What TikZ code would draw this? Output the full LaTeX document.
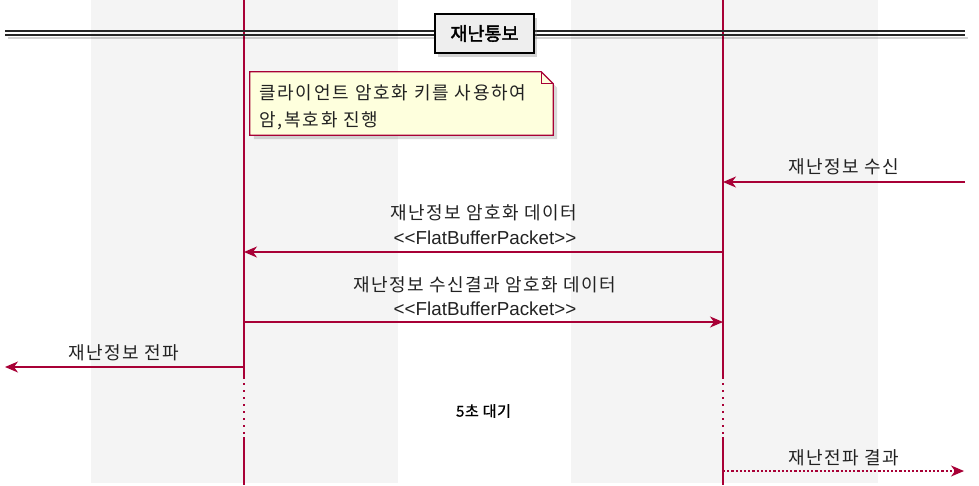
\documentclass[tikz,border=0pt]{standalone}
\usepackage{fontspec}
\setmainfont{Liberation Sans}
\newfontfamily\kr[LetterSpace=8]{Noto Sans CJK KR}
\newfontfamily\krn[LetterSpace=10]{Noto Sans CJK KR}
\newfontfamily\krb[FakeBold=2]{Noto Sans CJK KR}
\newfontfamily\krm[FakeBold=1,LetterSpace=4]{Noto Sans CJK KR}
\usetikzlibrary{arrows.meta,shadows}
\definecolor{pu}{HTML}{A80036}
\definecolor{band}{HTML}{F4F4F4}
\definecolor{notefill}{HTML}{FEFFDD}
\definecolor{txt}{HTML}{222222}
\definecolor{titlefill}{HTML}{EEEEEE}
\tikzset{
  lifeline/.style={draw=pu, line width=1.4pt},
  waitline/.style={draw=pu, line width=1.4pt, dash pattern=on 1.6pt off 5.4pt, dash phase=-4pt},
  msg/.style={draw=pu, line width=1.3pt, -{Stealth[length=13pt,width=11pt,inset=4pt]}},
  rmsg/.style={msg, dash pattern=on 2.2pt off 2pt},
  lbl/.style={font=\kr\fontsize{18}{22}\selectfont, text=txt, inner sep=0pt},
  latlbl/.style={font=\fontsize{18.8}{22}\selectfont, text=txt, inner sep=0pt, text height=13.5pt, text depth=0pt},
  delaylbl/.style={font=\krm\fontsize{15}{18}\selectfont, text=black, inner sep=0pt},
  titlebox/.style={draw=black, line width=1.5pt, fill=titlefill, minimum width=99pt, minimum height=39pt, inner sep=0pt,
    font=\krb\fontsize{18.5}{22}\selectfont, drop shadow={shadow xshift=3pt, shadow yshift=-4pt, opacity=0.35}},
  notebox/.style={minimum width=303pt, minimum height=63pt, inner sep=0pt},
  notetext/.style={font=\krn\fontsize{18}{27}\selectfont, text=txt, inner sep=0pt, align=left},
  sepline/.style={draw=black!85, line width=1.4pt},
}
\begin{document}
\begin{tikzpicture}[x=1pt,y=-1pt]
\useasboundingbox (0,0) rectangle (979,485);
% background bands
\fill[band] (91,0) rectangle (398,483);
\fill[band] (571,0) rectangle (878,483);

% lifelines
\coordinate (L1top) at (244,0);
\coordinate (L1w1) at (244,379);
\coordinate (L1w2) at (244,437);
\coordinate (L1bot) at (244,485);
\coordinate (L2top) at (723,0);
\coordinate (L2w1) at (723,379);
\coordinate (L2w2) at (723,437);
\coordinate (L2bot) at (723,485);
\draw[lifeline] (L1top) -- (L1w1);
\draw[waitline] (L1w1) -- (L1w2);
\draw[lifeline] (L1w2) -- (L1bot);
\draw[lifeline] (L2top) -- (L2w1);
\draw[waitline] (L2w1) -- (L2w2);
\draw[lifeline] (L2w2) -- (L2bot);

% separator
\coordinate (sepA1) at (5,31);
\coordinate (sepA2) at (965,31);
\coordinate (sepB1) at (5,35);
\coordinate (sepB2) at (965,35);
\coordinate (sepS1) at (8,38);
\coordinate (sepS2) at (968,38);
\draw[black, opacity=0.18, line width=2.5pt] (sepS1) -- (sepS2);
\draw[sepline] (sepA1) -- (sepA2);
\draw[sepline] (sepB1) -- (sepB2);
\node[titlebox] (title) at (484.5,33.5) {재난통보};

% note
\node[notebox] (note) at (401.5,103.5) {};
\filldraw[fill=notefill, draw=pu, line width=1.2pt,
  drop shadow={shadow xshift=4pt, shadow yshift=-4pt, opacity=0.3}]
  (note.north west) -- ([xshift=-12pt]note.north east) -- ([yshift=-12pt]note.north east)
  -- (note.south east) -- (note.south west) -- cycle;
\draw[draw=pu, line width=1.2pt] ([xshift=-12pt]note.north east) -- ([xshift=-12pt,yshift=-12pt]note.north east) -- ([yshift=-12pt]note.north east);
\node[notetext, anchor=west] (notetxt) at (259,107) {클라이언트 암호화 키를 사용하여\\암,복호화 진행};

% message endpoints
\coordinate (ext1) at (965,182);
\coordinate (m1b) at (723,182);
\coordinate (m2a) at (723,252);
\coordinate (m2b) at (244,252);
\coordinate (m3a) at (244,322);
\coordinate (m3b) at (723,322);
\coordinate (m4a) at (244,367);
\coordinate (ext4) at (5,367);
\coordinate (m5a) at (723,471);
\coordinate (ext5) at (964,471);

\draw[msg] (ext1) -- (m1b);
\node[lbl] (lab1) at (843.5,167) {재난정보 수신};

\draw[msg] (m2a) -- (m2b);
\node[lbl] (lab2a) at (483.5,213) {재난정보 암호화 데이터};
\node[latlbl] (lab2b) at (485,238) {<\kern0pt<FlatBufferPacket>\kern0pt>};

\draw[msg] (m3a) -- (m3b);
\node[lbl] (lab3a) at (484.5,285) {재난정보 수신결과 암호화 데이터};
\node[latlbl] (lab3b) at (485,309) {<\kern0pt<FlatBufferPacket>\kern0pt>};

\draw[msg] (m4a) -- (ext4);
\node[lbl] (lab4) at (124,353) {재난정보 전파};

\node[delaylbl] (delay) at (483.5,411) {5초 대기};

\draw[rmsg] (m5a) -- (ext5);
\node[lbl] (lab5) at (844,458) {재난전파 결과};
\end{tikzpicture}
\end{document}
